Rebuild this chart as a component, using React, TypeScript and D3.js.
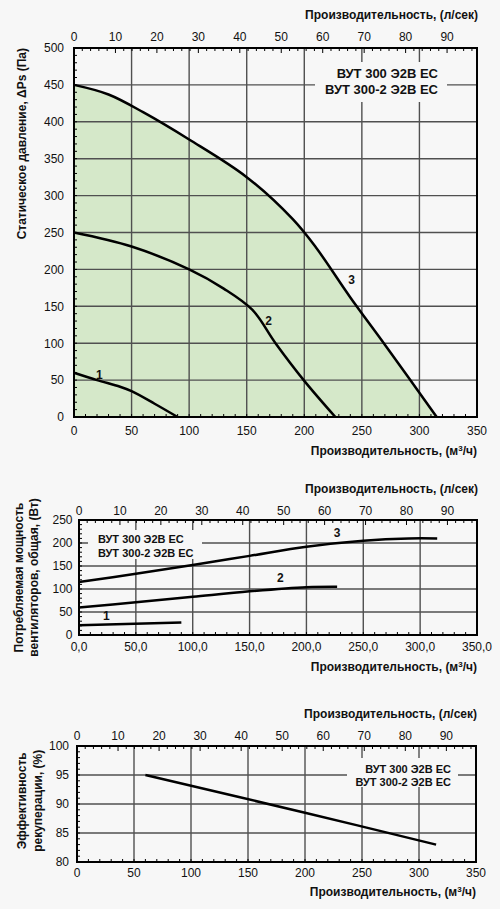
import React from "react";
import * as d3 from "d3";

// ---------- data ----------
const modelNames = ["ВУТ 300 Э2В ЕС", "ВУТ 300-2 Э2В ЕС"];
const flowTicksM3h = [0, 50, 100, 150, 200, 250, 300, 350];
const flowTicksLs = [0, 10, 20, 30, 40, 50, 60, 70, 80, 90];

const pressureTicks = [0, 50, 100, 150, 200, 250, 300, 350, 400, 450, 500];
const pressureCurve1: [number, number][] = [[0, 60], [20, 50], [40, 41], [50, 35], [70, 18], [90, 0]];
const pressureCurve2: [number, number][] = [[0, 250], [50, 231], [100, 200], [130, 174], [155, 145], [175, 100], [200, 49], [227, 0]];
const pressureCurve3: [number, number][] = [[0, 450], [30, 437], [60, 413], [100, 376], [150, 325], [190, 268], [210, 230], [240, 162], [270, 98], [315, 0]];
const pressureLabels: { text: string; x: number; y: number }[] = [
  { text: "1", x: 22, y: 52 },
  { text: "2", x: 169, y: 125 },
  { text: "3", x: 241, y: 180 },
];

const powerTicks = [0, 50, 100, 150, 200, 250];
const powerCurve1: [number, number][] = [[0, 21], [90, 27]];
const powerCurve2: [number, number][] = [[0, 60], [50, 71], [100, 83], [150, 95], [200, 104], [227, 105]];
const powerCurve3: [number, number][] = [[0, 115], [50, 133], [100, 152], [150, 172], [200, 192], [250, 205], [290, 210], [315, 210]];
const powerLabels: { text: string; x: number; y: number }[] = [
  { text: "1", x: 24, y: 33 },
  { text: "2", x: 177, y: 116 },
  { text: "3", x: 227, y: 213 },
];

const effTicks = [80, 85, 90, 95, 100];
const effCurve: [number, number][] = [[60, 95], [200, 88.5], [315, 83]];

// ---------- styles ----------
const FONT = "'Liberation Sans', Arial, Helvetica, sans-serif";
const BG = "#f7f7f7";
const TXT = "#111";
const GRID = "#505050";
const FILL = "#d5e8c9";

type Curve = [number, number][];

interface PanelProps {
  left: number; right: number; top: number; bottom: number;
  yDomain: [number, number];
  yTicks: number[];
  yMinorStep: number;
  yLabelRight: number;
  yFmt: (v: number) => string;
  xFmt: (v: number) => string;
  curves: Curve[];
  fillCurve?: Curve;
  labels: { text: string; x: number; y: number }[];
  titleTopY: number;
  topLabelY: number;
  bottomLabelY: number;
  titleBottomY: number;
  legend: { x: number; y: number; anchor: "start" | "end"; size: number; lineGap: number; box: [number, number, number, number] };
  yTitle: { lines: string[]; xs: number[]; y: number; anchor: "middle" | "end" };
}

function Panel(p: PanelProps) {
  const x = d3.scaleLinear().domain([0, 350]).range([p.left, p.right]);
  const xLs = d3.scaleLinear().domain([0, 350 / 3.6]).range([p.left, p.right]);
  const y = d3.scaleLinear().domain(p.yDomain).range([p.bottom, p.top]);
  const line = d3.line<[number, number]>().x(d => x(d[0])).y(d => y(d[1])).curve(d3.curveCatmullRom.alpha(0.5));
  const area = d3.area<[number, number]>().x(d => x(d[0])).y0(y(p.yDomain[0])).y1(d => y(d[1])).curve(d3.curveCatmullRom.alpha(0.5));

  const xMinor = d3.range(0, 351, 10);
  const lsMinor = d3.range(0, 97.2, 2);
  const yMinor = d3.range(p.yDomain[0], p.yDomain[1] + 0.001, p.yMinorStep);
  const innerX = flowTicksM3h.filter(v => v > 0 && v < 350);
  const innerY = p.yTicks.filter(v => v > p.yDomain[0] && v < p.yDomain[1]);

  return (
    <g>
      {p.fillCurve && <path d={area(p.fillCurve) || ""} fill={FILL} />}
      {innerX.map(v => (
        <line key={"gx" + v} x1={x(v)} x2={x(v)} y1={p.top} y2={p.bottom} stroke={GRID} strokeWidth={1.4} />
      ))}
      {innerY.map(v => (
        <line key={"gy" + v} x1={p.left} x2={p.right} y1={y(v)} y2={y(v)} stroke={GRID} strokeWidth={1.4} />
      ))}
      {xMinor.map(v => (
        <line key={"mx" + v} x1={x(v)} x2={x(v)} y1={p.bottom} y2={p.bottom - 3} stroke="#000" strokeWidth={1} />
      ))}
      {lsMinor.map(v => (
        <line key={"ml" + v} x1={xLs(v)} x2={xLs(v)} y1={p.top} y2={p.top + (v % 10 === 0 ? 5 : 3)} stroke="#000" strokeWidth={1} />
      ))}
      {yMinor.map(v => (
        <line key={"my" + v} x1={p.left} x2={p.left + 3} y1={y(v)} y2={y(v)} stroke="#000" strokeWidth={1} />
      ))}
      <rect x={p.legend.box[0]} y={p.legend.box[1]} width={p.legend.box[2]} height={p.legend.box[3]} fill={BG} />
      {modelNames.map((t, i) => (
        <text key={"lg" + i} x={p.legend.x} y={p.legend.y + i * p.legend.lineGap} textAnchor={p.legend.anchor}
          fontSize={p.legend.size} fontWeight="bold" fill={TXT}>{t}</text>
      ))}
      {p.curves.map((c, i) => (
        <path key={"c" + i} d={line(c) || ""} fill="none" stroke="#000" strokeWidth={2.5} strokeLinejoin="round" />
      ))}
      {p.labels.map((l, i) => (
        <text key={"cl" + i} x={x(l.x)} y={y(l.y)} textAnchor="middle" fontSize={12} fontWeight="bold" fill={TXT}>{l.text}</text>
      ))}
      <rect x={p.left} y={p.top} width={p.right - p.left} height={p.bottom - p.top} fill="none" stroke="#000" strokeWidth={2} />
      {p.yTicks.map(v => (
        <text key={"yl" + v} x={p.yLabelRight} y={y(v) + 4.3} textAnchor="end" fontSize={12} fill={TXT}>{p.yFmt(v)}</text>
      ))}
      {flowTicksM3h.map(v => (
        <text key={"xl" + v} x={x(v)} y={p.bottomLabelY} textAnchor="middle" fontSize={12} fill={TXT}>{p.xFmt(v)}</text>
      ))}
      {flowTicksLs.map(v => (
        <text key={"tl" + v} x={xLs(v)} y={p.topLabelY} textAnchor="middle" fontSize={12} fill={TXT}>{v}</text>
      ))}
      <text x={p.right + 1} y={p.titleTopY} textAnchor="end" fontSize={12} fontWeight="bold" fill={TXT}>Производительность, (л/сек)</text>
      <text x={p.right} y={p.titleBottomY} textAnchor="end" fontSize={12} fontWeight="bold" fill={TXT}>
        Производительность, (м<tspan dy={-4} fontSize={8}>3</tspan><tspan dy={4}>/ч)</tspan>
      </text>
      {p.yTitle.lines.map((t, i) => (
        <text key={"yt" + i} transform={`translate(${p.yTitle.xs[i]},${p.yTitle.y}) rotate(-90)`} textAnchor={p.yTitle.anchor}
          fontSize={12} fontWeight="bold" fill={TXT}>{t}</text>
      ))}
    </g>
  );
}

export default function App() {
  const intFmt = (v: number) => String(v);
  const decFmt = (v: number) => v.toFixed(1).replace(".", ",");
  return (
    <svg width={500} height={909} style={{ position: "absolute", left: 0, top: 0, fontFamily: FONT }}>
      <rect width={500} height={909} fill={BG} />
      <Panel
        left={74} right={477} top={48} bottom={417}
        yDomain={[0, 500]} yTicks={pressureTicks} yMinorStep={10} yLabelRight={64}
        yFmt={intFmt} xFmt={intFmt}
        curves={[pressureCurve1, pressureCurve2, pressureCurve3]}
        fillCurve={pressureCurve3}
        labels={pressureLabels}
        titleTopY={18.5} topLabelY={41} bottomLabelY={434.5} titleBottomY={455}
        legend={{ x: 438, y: 78, anchor: "end", size: 13, lineGap: 16, box: [315, 62, 132, 40] }}
        yTitle={{ lines: ["Статическое давление, ΔPs (Па)"], xs: [26], y: 48, anchor: "end" }}
      />
      <Panel
        left={79} right={477} top={520} bottom={635}
        yDomain={[0, 250]} yTicks={powerTicks} yMinorStep={10} yLabelRight={72.5}
        yFmt={intFmt} xFmt={decFmt}
        curves={[powerCurve1, powerCurve2, powerCurve3]}
        labels={powerLabels}
        titleTopY={492.5} topLabelY={514.5} bottomLabelY={651} titleBottomY={671}
        legend={{ x: 98, y: 543, anchor: "start", size: 11, lineGap: 14, box: [88, 530, 114, 29] }}
        yTitle={{ lines: ["Потребляемая мощность", "вентиляторов, общая, (Вт)"], xs: [23, 37.5], y: 577.5, anchor: "middle" }}
      />
      <Panel
        left={77} right={476} top={746} bottom={862}
        yDomain={[80, 100]} yTicks={effTicks} yMinorStep={1} yLabelRight={69}
        yFmt={intFmt} xFmt={intFmt}
        curves={[effCurve]}
        labels={[]}
        titleTopY={717.8} topLabelY={739.5} bottomLabelY={877} titleBottomY={896}
        legend={{ x: 451, y: 772.5, anchor: "end", size: 11, lineGap: 13, box: [347, 758, 111, 29] }}
        yTitle={{ lines: ["Эффективность", "рекуперации, (%)"], xs: [26, 42], y: 800.8, anchor: "middle" }}
      />
    </svg>
  );
}
